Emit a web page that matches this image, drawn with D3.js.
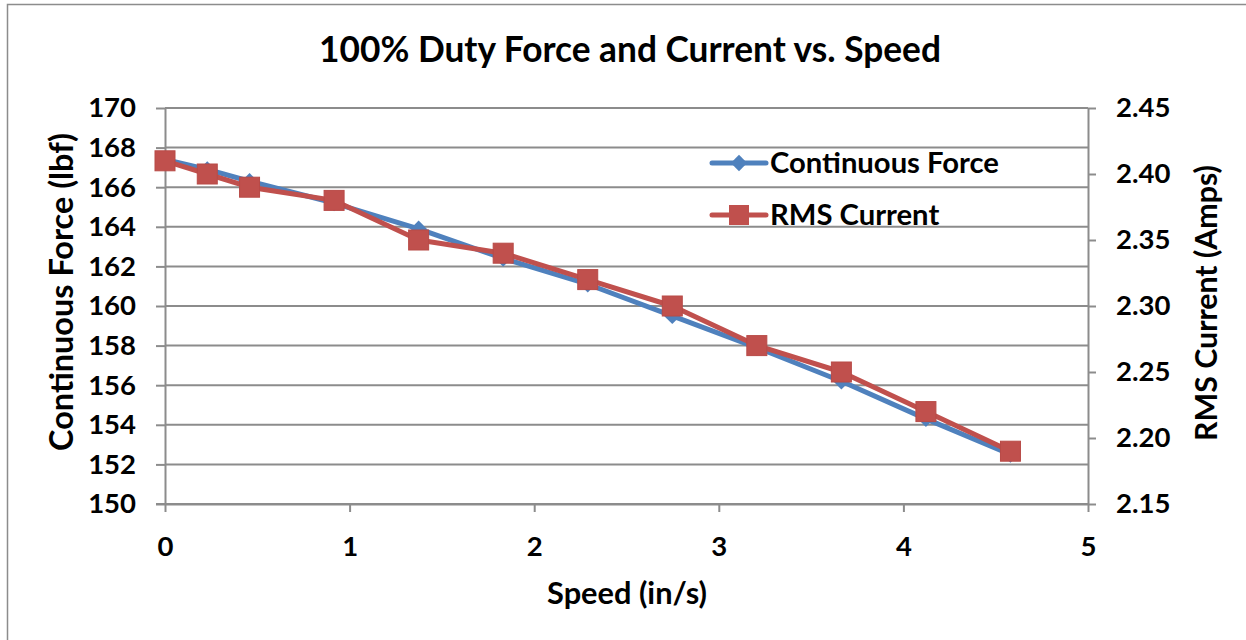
<!DOCTYPE html>
<html><head><meta charset="utf-8">
<script src="https://cdn.jsdelivr.net/npm/d3@7"></script>
<style>body{margin:0;background:#fff}svg{display:block}text{font-family:Lato,"Open Sans",sans-serif;font-weight:bold;fill:#000}</style>
</head><body>
<script>
const speed = [0, 0.229, 0.458, 0.916, 1.374, 1.832, 2.29, 2.748, 3.206, 3.664, 4.122, 4.58];
const force = [167.4, 166.9, 166.3, 165.2, 163.9, 162.4, 161.1, 159.5, 157.9, 156.2, 154.3, 152.5];
const current = [2.41, 2.40, 2.39, 2.38, 2.35, 2.34, 2.32, 2.30, 2.27, 2.25, 2.22, 2.19];
const xTicks = [0, 1, 2, 3, 4, 5];
const yLeftTicks = [150, 152, 154, 156, 158, 160, 162, 164, 166, 168, 170];
const yRightTicks = [2.15, 2.20, 2.25, 2.30, 2.35, 2.40, 2.45];
const seriesNames = ["Continuous Force", "RMS Current"];
const title = "100% Duty Force and Current vs. Speed";

const W = 1246, H = 640;
const svg = d3.select("body").append("svg").attr("width", W).attr("height", H);
svg.append("rect").attr("x", 7.5).attr("y", 4.5).attr("width", W + 20).attr("height", H + 20)
  .attr("fill", "#fff").attr("stroke", "#8c8c8c").attr("stroke-width", 1.5);

const L = 165, R = 1088, T = 108, B = 504;
const x = d3.scaleLinear().domain([0, 5]).range([L, R]);
const yL = d3.scaleLinear().domain([150, 170]).range([B, T]);
const yR = d3.scaleLinear().domain([2.15, 2.45]).range([B, T]);
const grey = "#8c8c8c";

// gridlines
svg.append("g").selectAll("line").data(yLeftTicks).join("line")
  .attr("x1", L).attr("x2", R).attr("y1", d => yL(d)).attr("y2", d => yL(d))
  .attr("stroke", grey).attr("stroke-width", 2);

function styleAxis(g) {
  g.select(".domain").attr("stroke", grey).attr("stroke-width", 2);
  g.selectAll(".tick line").attr("stroke", grey).attr("stroke-width", 2);
  g.selectAll(".tick text").style("font-size", "27.5px").style("font-family", "Lato, sans-serif").style("font-weight", "bold").attr("fill", "#000");
}
const gx = svg.append("g").attr("transform", `translate(0,${B})`)
  .call(d3.axisBottom(x).tickValues(xTicks).tickFormat(d3.format("d")).tickSize(8).tickSizeOuter(0).tickPadding(24));
styleAxis(gx);
gx.selectAll(".tick text").attr("dy", "0.71em");
gx.append("line").attr("x1", L - 9).attr("x2", L).attr("y1", 0).attr("y2", 0).attr("stroke", grey).attr("stroke-width", 2);

const gl = svg.append("g").attr("transform", `translate(${L},0)`)
  .call(d3.axisLeft(yL).tickValues(yLeftTicks).tickFormat(d3.format("d")).tickSize(9).tickSizeOuter(0).tickPadding(20));
styleAxis(gl);
const gr = svg.append("g").attr("transform", `translate(${R},0)`)
  .call(d3.axisRight(yR).tickValues(yRightTicks).tickFormat(d3.format(".2f")).tickSize(8).tickSizeOuter(0).tickPadding(20));
styleAxis(gr);

// lines
const blue = "#4f81bd", red = "#c0504d";
const lineF = d3.line().x((d, i) => x(speed[i])).y(d => yL(d));
const lineC = d3.line().x((d, i) => x(speed[i])).y(d => yR(d));
svg.append("path").attr("d", lineF(force)).attr("fill", "none").attr("stroke", blue).attr("stroke-width", 5).attr("stroke-linejoin", "round");
const diamond = d3.symbol().type(d3.symbolDiamond2).size(170);
svg.append("g").selectAll("path").data(force).join("path")
  .attr("transform", (d, i) => `translate(${x(speed[i])},${yL(d)})`)
  .attr("d", diamond).attr("fill", blue);
svg.append("path").attr("d", lineC(current)).attr("fill", "none").attr("stroke", red).attr("stroke-width", 5).attr("stroke-linejoin", "round");
const S = 20;
svg.append("g").selectAll("rect").data(current).join("rect")
  .attr("x", (d, i) => x(speed[i]) - S / 2).attr("y", d => yR(d) - S / 2)
  .attr("width", S).attr("height", S).attr("fill", red).attr("stroke", "#b84a47").attr("stroke-width", 1);

// titles / fitting helper
function fit(t, w) { const n = t.node(); const cur = n.getComputedTextLength(); const fs = parseFloat(t.style("font-size")); const nf = fs * w / cur; t.style("font-size", nf + "px"); return nf; }

// legend
const lg = svg.append("g");
let legendSize = null;
[[blue, "d", 163], [red, "s", 215]].forEach(([c, m, yy], i) => {
  lg.append("line").attr("x1", 712).attr("x2", 766).attr("y1", yy).attr("y2", yy).attr("stroke", c).attr("stroke-width", 5).attr("stroke-linecap", "round");
  if (m === "d") lg.append("path").attr("transform", `translate(739,${yy})`).attr("d", diamond).attr("fill", c);
  else lg.append("rect").attr("x", 739 - S / 2).attr("y", yy - S / 2).attr("width", S).attr("height", S).attr("fill", c);
  const t = lg.append("text").attr("x", 770).attr("y", yy).attr("dy", "0.35em").style("font-size", "24px").text(seriesNames[i]);
  if (i === 0) legendSize = fit(t, 229); else t.style("font-size", legendSize + "px");
});

const tt = svg.append("text").attr("x", 630).attr("y", 50).attr("text-anchor", "middle").attr("dy", "0.35em").style("font-size", "28px").text(title);
fit(tt, 622);
const xt = svg.append("text").attr("x", 627).attr("y", 593).attr("text-anchor", "middle").attr("dy", "0.35em").style("font-size", "24px").text("Speed (in/s)");
fit(xt, 160);
const ylt = svg.append("text").attr("transform", "translate(62,292) rotate(-90)").attr("text-anchor", "middle").attr("dy", "0.35em").style("font-size", "24px").text("Continuous Force (lbf)");
fit(ylt, 318);
const yrt = svg.append("text").attr("transform", "translate(1206,303) rotate(-90)").attr("text-anchor", "middle").attr("dy", "0.35em").style("font-size", "24px").text("RMS Current (Amps)");
fit(yrt, 276);
</script>
</body></html>
